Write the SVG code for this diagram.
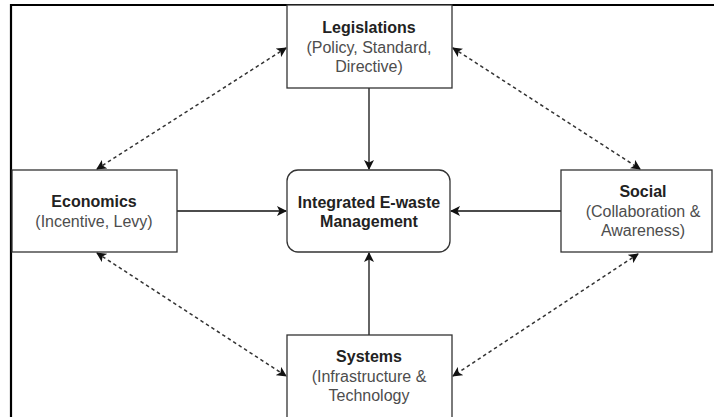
<svg xmlns="http://www.w3.org/2000/svg" width="714" height="417" viewBox="0 0 714 417">
<defs>
<marker id="ah" viewBox="0 0 10 10" refX="9" refY="5" markerWidth="10" markerHeight="10" markerUnits="userSpaceOnUse" orient="auto-start-reverse">
<path d="M0,0 L10,5 L0,10 L2.5,5 Z" fill="#111"/>
</marker>
</defs>
<style>
.box{fill:#fff;stroke:#333;stroke-width:1.3}
.t{font-family:"Liberation Sans",Arial,sans-serif;font-size:16px;text-anchor:middle}
.b{font-weight:bold;fill:#222}
.r{fill:#4d4d4d}
.solid{fill:none;stroke:#111;stroke-width:1.3}
.dash{fill:none;stroke:#333;stroke-width:1.5;stroke-dasharray:3.5 3}
</style>
<rect width="714" height="417" fill="#fff"/>
<path d="M11,417 V5 H714" fill="none" stroke="#000" stroke-width="2.2"/>
<g id="connectors">
<path class="solid" d="M369,88 V169" marker-end="url(#ah)"/>
<path class="solid" d="M177,211 H286" marker-end="url(#ah)"/>
<path class="solid" d="M561,211 H451" marker-end="url(#ah)"/>
<path class="solid" d="M369,335 V253" marker-end="url(#ah)"/>
<path class="dash" d="M97,169 L286,48" marker-start="url(#ah)" marker-end="url(#ah)"/>
<path class="dash" d="M453,48 L640,169" marker-start="url(#ah)" marker-end="url(#ah)"/>
<path class="dash" d="M97,253 L286,376" marker-start="url(#ah)" marker-end="url(#ah)"/>
<path class="dash" d="M638,254 L453,376" marker-start="url(#ah)" marker-end="url(#ah)"/>
</g>
<g id="legislations">
<rect class="box" x="287" y="5" width="165" height="83"/>
<text class="t b" x="369" y="33">Legislations</text>
<text class="t r" x="369" y="53">(Policy, Standard,</text>
<text class="t r" x="369" y="72">Directive)</text>
</g>
<g id="economics">
<rect class="box" x="12" y="170" width="165" height="82"/>
<text class="t b" x="94" y="207">Economics</text>
<text class="t r" x="94" y="227">(Incentive, Levy)</text>
</g>
<g id="center">
<rect class="box" x="287" y="170" width="163" height="82" rx="11"/>
<text class="t b" x="369" y="208">Integrated E-waste</text>
<text class="t b" x="369" y="227">Management</text>
</g>
<g id="social">
<rect class="box" x="561" y="170" width="151" height="82"/>
<text class="t b" x="643" y="197">Social</text>
<text class="t r" x="643" y="217">(Collaboration &amp;</text>
<text class="t r" x="643" y="236">Awareness)</text>
</g>
<g id="systems">
<rect class="box" x="287" y="335" width="165" height="90"/>
<text class="t b" x="369" y="362">Systems</text>
<text class="t r" x="369" y="382">(Infrastructure &amp;</text>
<text class="t r" x="369" y="401">Technology</text>
</g>
</svg>
